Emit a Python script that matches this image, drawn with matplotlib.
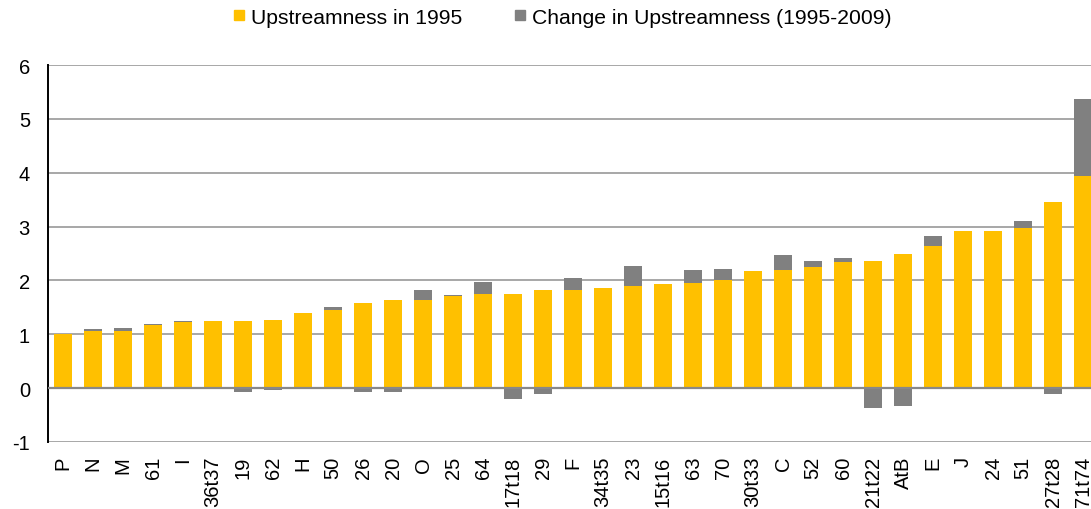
import matplotlib.pyplot as plt
from matplotlib.lines import Line2D
import numpy as np

plt.rcParams['font.family'] = ['Liberation Sans', 'DejaVu Sans']
plt.rcParams['axes.unicode_minus'] = False

# industries, ordered by upstreamness in 1995
industries = ["P", "N", "M", "61", "I", "36t37", "19", "62", "H", "50",
              "26", "20", "O", "25", "64", "17t18", "29", "F", "34t35", "23",
              "15t16", "63", "70", "30t33", "C", "52", "60", "21t22", "AtB", "E",
              "J", "24", "51", "27t28", "71t74"]
upstream_1995 = [1.00, 1.07, 1.07, 1.18, 1.22, 1.25, 1.25, 1.26, 1.40, 1.45,
                 1.58, 1.64, 1.64, 1.71, 1.74, 1.75, 1.82, 1.82, 1.86, 1.90,
                 1.93, 1.95, 2.01, 2.18, 2.20, 2.25, 2.35, 2.36, 2.50, 2.63,
                 2.91, 2.91, 2.97, 3.46, 3.93]
change = [0.00, 0.03, 0.05, 0.02, 0.03, 0.00, -0.07, -0.04, 0.00, 0.05,
          -0.07, -0.08, 0.18, 0.02, 0.24, -0.21, -0.11, 0.22, -0.01, 0.37,
          -0.01, 0.24, 0.20, 0.00, 0.28, 0.12, 0.06, -0.37, -0.34, 0.20,
          -0.01, -0.02, 0.13, -0.10, 1.43]

yellow = "#FFC000"
grey = "#808080"

up = np.array(upstream_1995)
ch = np.array(change)
x = np.arange(len(industries))

fig = plt.figure(figsize=(10.91, 5.10), dpi=100)
# axis runs a little past the right edge, like the original export
ax = fig.add_axes([48 / 1091, 67 / 510, 1050 / 1091, 377 / 510])

ax.bar(x, up, width=0.57, color=yellow, zorder=2)
ax.bar(x, ch, width=0.57, bottom=np.where(ch > 0, up, 0), color=grey, zorder=2)
ax.axhline(0, color="#888888", lw=1.6, zorder=3)

ax.set_xlim(-0.5, len(industries) - 0.5)
ax.set_ylim(-1, 6)
ax.set_yticks(range(-1, 7))
ax.yaxis.grid(True, color="#a0a0a0", lw=1.3, zorder=0)
ax.set_axisbelow(True)

ax.set_xticks(x)
ax.set_xticklabels(industries, rotation=90)
ax.tick_params(axis="x", length=0, pad=10, labelsize=14.5)
ax.tick_params(axis="y", length=0, pad=13, labelsize=14.5)

for s in ["top", "right", "bottom"]:
    ax.spines[s].set_visible(False)
ax.spines["left"].set_color("black")
ax.spines["left"].set_linewidth(1.4)

handles = [Line2D([], [], marker="s", ls="none", color=yellow, markersize=7.5),
           Line2D([], [], marker="s", ls="none", color=grey, markersize=7.5)]
fig.legend(handles, ["Upstreamness in 1995", "Change in Upstreamness (1995-2009)"],
           loc="center", bbox_to_anchor=(562 / 1091, 1 - 18 / 510), ncol=2,
           frameon=False, fontsize=15.2, handlelength=0.6, handletextpad=0.3,
           columnspacing=2.4)

fig.savefig("out.png", dpi=100)
